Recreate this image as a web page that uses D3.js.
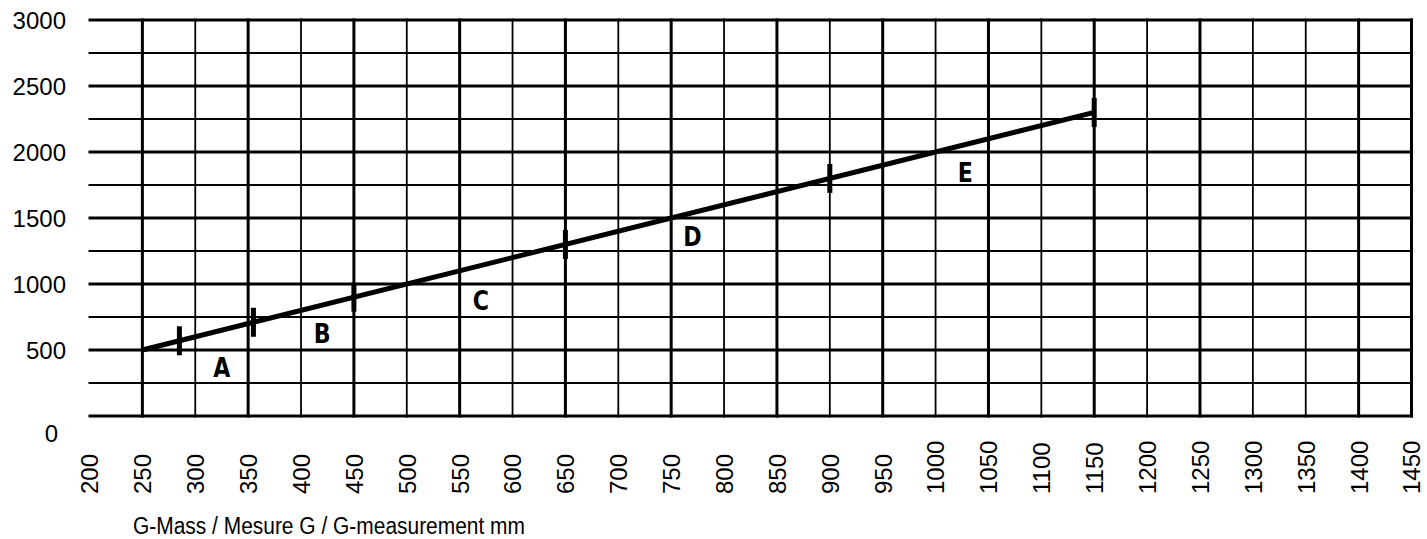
<!DOCTYPE html>
<html>
<head>
<meta charset="utf-8">
<script src="https://cdn.jsdelivr.net/npm/d3@7"></script>
<style>
  html, body { margin: 0; padding: 0; background: #fff; }
  svg { display: block; }
</style>
</head>
<body>
<svg id="chart" width="1427" height="539"></svg>
<script>
// Axis tick labels
const xTickLabels = [200, 250, 300, 350, 400, 450, 500, 550, 600, 650, 700, 750, 800,
                     850, 900, 950, 1000, 1050, 1100, 1150, 1200, 1250, 1300, 1350, 1400, 1450];
const yTickLabels = [0, 500, 1000, 1500, 2000, 2500, 3000];

// Grid lines (heavy ones drawn thicker)
const xGridValues = [250, 300, 350, 400, 450, 500, 550, 600, 650, 700, 750, 800, 850,
                     900, 950, 1000, 1050, 1100, 1150, 1200, 1250, 1300, 1350, 1400, 1450];
const xHeavy = [250, 350, 450, 550, 650, 750, 850, 950, 1050, 1150, 1250, 1400, 1450];
const yGridValues = [0, 250, 500, 750, 1000, 1250, 1500, 1750, 2000, 2250, 2500, 2750, 3000];
const yHeavy = [0, 500, 1000, 1500, 2000, 2500, 3000];

// Characteristic line
const lineX = [250, 1150];
const lineY = [500, 2300];

// Range boundary marks on the line
const markX = [285, 355, 450, 650, 900, 1150];
const markY = [570, 710, 900, 1300, 1800, 2300];

// Range names
const zoneNames = ["A", "B", "C", "D", "E"];
const zoneX = [325, 420, 570, 770, 1028];
const zoneY = [370, 629, 879, 1364, 1848];

const axisTitle = "G-Mass / Mesure G / G-measurement mm";

const svg = d3.select("#chart");
const x = d3.scaleLinear().domain([200, 1450]).range([89.5, 1411.5]);
const y = d3.scaleLinear().domain([0, 3000]).range([416, 20]);

const labelFont = "'Liberation Sans', Arial, Helvetica, sans-serif";

// Horizontal grid
svg.append("g").selectAll("line")
  .data(yGridValues)
  .join("line")
  .attr("x1", x(200) - 1)
  .attr("x2", x(1450) + 1.5)
  .attr("y1", d => y(d))
  .attr("y2", d => y(d))
  .attr("stroke", "#000")
  .attr("stroke-width", d => yHeavy.includes(d) ? 3 : 1.8);

// Vertical grid
svg.append("g").selectAll("line")
  .data(xGridValues)
  .join("line")
  .attr("x1", d => x(d))
  .attr("x2", d => x(d))
  .attr("y1", y(3000) - 1.5)
  .attr("y2", y(0) + 1.5)
  .attr("stroke", "#000")
  .attr("stroke-width", d => xHeavy.includes(d) ? 3 : 1.8);

// Y axis labels
const yAxis = svg.append("g")
  .attr("transform", `translate(66,0)`)
  .call(d3.axisLeft(y).tickValues(yTickLabels).tickSize(0).tickPadding(0).tickFormat(d3.format("d")));
yAxis.select(".domain").remove();
yAxis.selectAll("text")
  .attr("font-family", labelFont)
  .attr("font-size", 24)
  .attr("fill", "#000")
  .attr("dy", d => d === 0 ? "1.05em" : "0.35em")
  .attr("dx", d => d === 0 ? -8 : 0);

// X axis labels, rotated
const xAxis = svg.append("g")
  .attr("transform", `translate(0,494)`)
  .call(d3.axisBottom(x).tickValues(xTickLabels).tickSize(0).tickPadding(0).tickFormat(d3.format("d")));
xAxis.select(".domain").remove();
xAxis.selectAll("text")
  .attr("font-family", labelFont)
  .attr("font-size", 24)
  .attr("fill", "#000")
  .attr("transform", "rotate(-90)")
  .attr("text-anchor", "start")
  .attr("x", 0)
  .attr("y", 0)
  .attr("dy", "0.35em");

// Characteristic line
const pts = lineX.map((v, i) => [v, lineY[i]]);
svg.append("path")
  .datum(pts)
  .attr("d", d3.line().x(d => x(d[0])).y(d => y(d[1])))
  .attr("fill", "none")
  .attr("stroke", "#000")
  .attr("stroke-width", 5);

// Boundary marks
svg.append("g").selectAll("line")
  .data(markX.map((v, i) => [v, markY[i]]))
  .join("line")
  .attr("x1", d => x(d[0]))
  .attr("x2", d => x(d[0]))
  .attr("y1", d => y(d[1]) - 14.5)
  .attr("y2", d => y(d[1]) + 14.5)
  .attr("stroke", "#000")
  .attr("stroke-width", 5);

// Range names (bold, horizontally condensed)
svg.append("g").selectAll("text")
  .data(zoneNames.map((n, i) => ({ n, vx: zoneX[i], vy: zoneY[i] })))
  .join("text")
  .attr("transform", d => `translate(${x(d.vx)},${y(d.vy)}) scale(0.82,1)`)
  .attr("dy", "0.36em")
  .attr("text-anchor", "middle")
  .attr("font-family", "'DejaVu Sans', Arial, sans-serif")
  .attr("font-weight", "bold")
  .attr("font-size", 27)
  .attr("fill", "#000")
  .text(d => d.n);

// Axis title
svg.append("text")
  .attr("x", 133)
  .attr("y", 534)
  .attr("font-family", labelFont)
  .attr("font-size", 23)
  .attr("textLength", 392)
  .attr("lengthAdjust", "spacingAndGlyphs")
  .attr("fill", "#000")
  .text(axisTitle);
</script>
</body>
</html>
